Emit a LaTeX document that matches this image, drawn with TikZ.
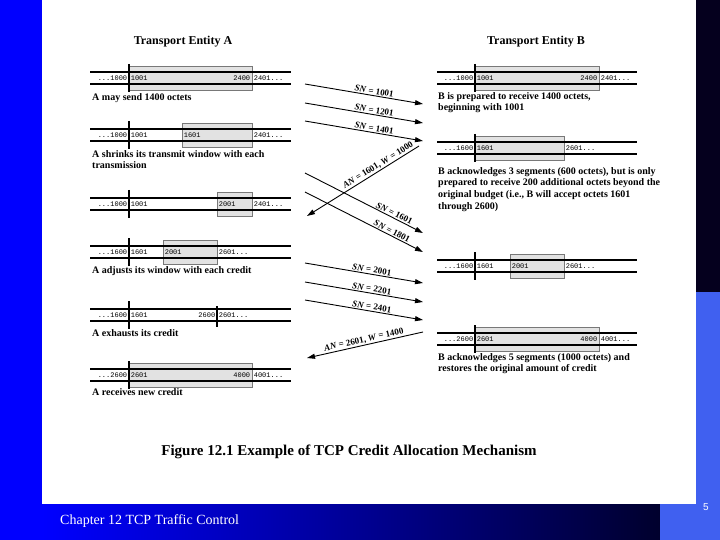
\documentclass[tikz,border=0pt]{standalone}
\usepackage{fontspec}
\setmainfont{Liberation Serif}
\setmonofont{Liberation Mono}
\setsansfont{Liberation Sans}
\usetikzlibrary{arrows.meta}
\definecolor{slideblue}{RGB}{0,0,255}
\definecolor{navydark}{RGB}{5,0,30}
\definecolor{bandend}{RGB}{0,0,45}
\definecolor{lightblue}{RGB}{64,96,240}
\definecolor{winfill}{RGB}{226,226,226}
\definecolor{wingray}{RGB}{120,120,120}
\newcommand{\barsAt}[4]{% xl xr xtick yc
  \draw[seqline] (#1,#4-6) -- (#2,#4-6) (#1,#4+6) -- (#2,#4+6);
  \draw[tickline] (#3,#4-14) -- (#3,#4+14);}
\begin{document}
\begin{tikzpicture}[x=1pt,y=-1pt,
  seqline/.style={line width=1.3pt},
  tickline/.style={line width=1.5pt},
  window/.style={draw=wingray, fill=winfill, line width=0.6pt},
  num/.style={font=\ttfamily\fontsize{7}{8}\selectfont, inner sep=0.6pt},
  numL/.style={num, anchor=east},
  numR/.style={num, anchor=west},
  captxt/.style={font=\bfseries\fontsize{10}{11.8}\selectfont, anchor=north west, align=left, inner sep=0pt},
  ttl/.style={font=\bfseries\fontsize{12}{14}\selectfont, inner sep=0pt},
  msg/.style={line width=0.9pt, -{Triangle[length=8pt,width=5pt]}},
  msglab/.style={font=\bfseries\fontsize{9}{10}\selectfont, sloped, above, inner sep=1pt},
]
\useasboundingbox (0,0) rectangle (720,540);
% slide frame
\fill[white] (0,0) rectangle (720,540);
\fill[slideblue] (0,0) rectangle (42,540);
\shade[left color=slideblue, right color=bandend] (42,504) rectangle (660,540);
\fill[navydark] (696,0) rectangle (720,292);
\fill[lightblue] (696,292) rectangle (720,540);
\fill[lightblue] (660,504) rectangle (720,540);
\node[font=\fontsize{14}{16}\selectfont, text=white, anchor=base west, inner sep=0pt] (footer) at (60,524) {Chapter 12 TCP Traffic Control};
\node[font=\sffamily\fontsize{10}{11}\selectfont, text=white, inner sep=0pt] (pagenum) at (706,507) {5};

% titles
\node[ttl] (titleA) at (183,42) {Transport Entity A};
\node[ttl] (titleB) at (536,42) {Transport Entity B};

% ---------- Entity A ----------
% A1
\draw[window] (129,66) rectangle (252,90);
\barsAt{90}{291}{129}{78}
\node[numL] (a1a) at (128,78) {...1000};
\node[numR] (a1b) at (130,78) {1001};
\node[numL] (a1c) at (251,78) {2400};
\node[numR] (a1d) at (253,78) {2401...};
\node[captxt] (a1cap) at (92,93) {A may send 1400 octets};
% A2
\draw[window] (182,123) rectangle (252,147);
\barsAt{90}{291}{129}{135}
\node[numL] (a2a) at (128,135) {...1000};
\node[numR] (a2b) at (130,135) {1001};
\node[numR] (a2c) at (183,135) {1601};
\node[numR] (a2d) at (253,135) {2401...};
\node[captxt] (a2cap) at (92,150) {A shrinks its transmit window with each\\transmission};
% A3
\draw[window] (217,192) rectangle (252,216);
\barsAt{90}{291}{129}{204}
\node[numL] (a3a) at (128,204) {...1000};
\node[numR] (a3b) at (130,204) {1001};
\node[numR] (a3c) at (218,204) {2001};
\node[numR] (a3d) at (253,204) {2401...};
% A4
\draw[window] (163,240) rectangle (217,264);
\barsAt{90}{291}{129}{252}
\node[numL] (a4a) at (128,252) {...1600};
\node[numR] (a4b) at (130,252) {1601};
\node[numR] (a4c) at (164,252) {2001};
\node[numR] (a4d) at (218,252) {2601...};
\node[captxt] (a4cap) at (92,266) {A adjusts its window with each credit};
% A5
\barsAt{90}{291}{129}{315}
\draw[tickline] (217,306) -- (217,327);
\node[numL] (a5a) at (128,315) {...1600};
\node[numR] (a5b) at (130,315) {1601};
\node[numL] (a5c) at (216,315) {2600};
\node[numR] (a5d) at (218,315) {2601...};
\node[captxt] (a5cap) at (92,329) {A exhausts its credit};
% A6
\draw[window] (129,363) rectangle (252,387);
\barsAt{90}{291}{129}{375}
\node[numL] (a6a) at (128,375) {...2600};
\node[numR] (a6b) at (130,375) {2601};
\node[numL] (a6c) at (251,375) {4000};
\node[numR] (a6d) at (253,375) {4001...};
\node[captxt] (a6cap) at (92,388) {A receives new credit};

% ---------- Entity B ----------
% B1
\draw[window] (475,66) rectangle (599,90);
\barsAt{437}{637}{475}{78}
\node[numL] (b1a) at (474,78) {...1000};
\node[numR] (b1b) at (476,78) {1001};
\node[numL] (b1c) at (598,78) {2400};
\node[numR] (b1d) at (600,78) {2401...};
\node[captxt] (b1cap) at (438,92) {B is prepared to receive 1400 octets,\\beginning with 1001};
% B2
\draw[window] (475,136) rectangle (564,160);
\barsAt{437}{637}{475}{148}
\node[numL] (b2a) at (474,148) {...1600};
\node[numR] (b2b) at (476,148) {1601};
\node[numR] (b2c) at (565,148) {2601...};
\node[captxt] (b2cap) at (438,167) {B acknowledges 3 segments (600 octets), but is only\\prepared to receive 200 additional octets beyond the\\original budget (i.e., B will accept octets 1601\\through 2600)};
% B3
\draw[window] (510,254) rectangle (564,278);
\barsAt{437}{637}{475}{266}
\node[numL] (b3a) at (474,266) {...1600};
\node[numR] (b3b) at (476,266) {1601};
\node[numR] (b3c) at (511,266) {2001};
\node[numR] (b3d) at (565,266) {2601...};
% B4
\draw[window] (475,327) rectangle (599,351);
\barsAt{437}{637}{475}{339}
\node[numL] (b4a) at (474,339) {...2600};
\node[numR] (b4b) at (476,339) {2601};
\node[numL] (b4c) at (598,339) {4000};
\node[numR] (b4d) at (600,339) {4001...};
\node[captxt] (b4cap) at (438,353) {B acknowledges 5 segments (1000 octets) and\\restores the original amount of credit};

% ---------- messages ----------
\coordinate (m1s) at (305,84);  \coordinate (m1e) at (423,104);
\coordinate (m2s) at (305,103); \coordinate (m2e) at (423,123);
\coordinate (m3s) at (305,121); \coordinate (m3e) at (423,141);
\coordinate (m4s) at (419,146); \coordinate (m4e) at (307,216);
\coordinate (m5s) at (305,173); \coordinate (m5e) at (423,233);
\coordinate (m6s) at (305,192); \coordinate (m6e) at (423,252);
\coordinate (m7s) at (305,263); \coordinate (m7e) at (423,283);
\coordinate (m8s) at (305,282); \coordinate (m8e) at (423,302);
\coordinate (m9s) at (305,300); \coordinate (m9e) at (423,320);
\coordinate (m10s) at (423,332); \coordinate (m10e) at (307,358);
\draw[msg] (m1s) -- node[msglab, pos=0.58] (l1) {\textit{SN} = 1001} (m1e);
\draw[msg] (m2s) -- node[msglab, pos=0.58] (l2) {\textit{SN} = 1201} (m2e);
\draw[msg] (m3s) -- node[msglab, pos=0.58] (l3) {\textit{SN} = 1401} (m3e);
\draw[msg] (m4s) -- node[msglab, pos=0.34] (l4) {\textit{AN} = 1601, \textit{W} = 1000} (m4e);
\draw[msg] (m5s) -- node[msglab, pos=0.74] (l5) {\textit{SN} = 1601} (m5e);
\draw[msg] (m6s) -- node[msglab, pos=0.72] (l6) {\textit{SN} = 1801} (m6e);
\draw[msg] (m7s) -- node[msglab, pos=0.56] (l7) {\textit{SN} = 2001} (m7e);
\draw[msg] (m8s) -- node[msglab, pos=0.56] (l8) {\textit{SN} = 2201} (m8e);
\draw[msg] (m9s) -- node[msglab, pos=0.56] (l9) {\textit{SN} = 2401} (m9e);
\draw[msg] (m10s) -- node[msglab, pos=0.5] (l10) {\textit{AN} = 2601, \textit{W} = 1400} (m10e);

% figure caption
\node[font=\bfseries\fontsize{15}{17}\selectfont, inner sep=0pt] (figcap) at (349,452) {Figure 12.1 Example of TCP Credit Allocation Mechanism};
\end{tikzpicture}
\end{document}
